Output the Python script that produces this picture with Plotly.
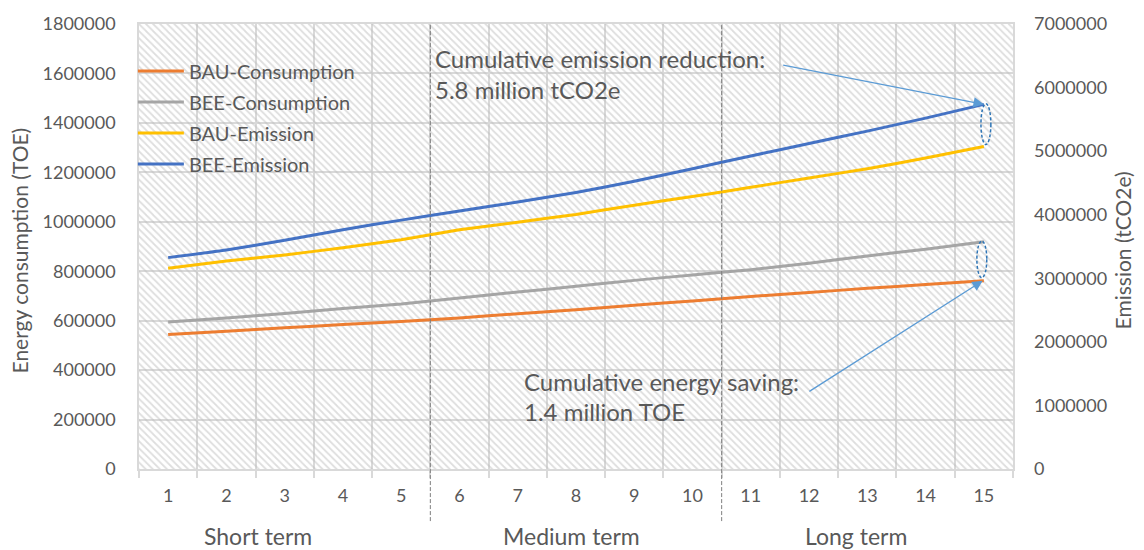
import plotly.graph_objects as go

years = list(range(1, 16))
bau_consumption = [544000, 557000, 571000, 584000, 597000, 611000, 628000, 644000, 662000, 680000,
                   698000, 714000, 731000, 746000, 761000]
bee_consumption = [595000, 611000, 629000, 649000, 667000, 692000, 716000, 739000, 763000, 785000,
                   806000, 832000, 862000, 889000, 919000]
bau_emission = [3158000, 3273000, 3367000, 3481000, 3606000, 3763000, 3883000, 4004000, 4150000, 4286000,
                4432000, 4578000, 4724000, 4891000, 5074000]
bee_emission = [3325000, 3445000, 3597000, 3765000, 3915000, 4058000, 4200000, 4350000, 4525000, 4724000,
                4925000, 5120000, 5315000, 5520000, 5736000]
term_labels = ["Short term", "Medium term", "Long term"]

FONT = "Lato"
TXT = "#595959"
GRID = "#d9d9d9"

fig = go.Figure()

# hatched plot background
fig.add_trace(go.Scatter(
    x=[0.5, 15.5, 15.5, 0.5, 0.5], y=[0, 0, 1800000, 1800000, 0],
    mode="lines", line=dict(width=0), fill="toself",
    fillcolor="rgba(0,0,0,0)",
    fillpattern=dict(shape="\\", fgcolor="#bdbdbd", bgcolor="rgba(255,255,255,0)", size=5, solidity=0.35),
    hoverinfo="skip", showlegend=False))

series = [
    ("BAU-Consumption", bau_consumption, "#ED7D31", "y"),
    ("BEE-Consumption", bee_consumption, "#A5A5A5", "y"),
    ("BAU-Emission", bau_emission, "#FFC000", "y2"),
    ("BEE-Emission", bee_emission, "#4472C4", "y2"),
]
for name, vals, color, ax in series:
    fig.add_trace(go.Scatter(x=years, y=vals, name=name, mode="lines", yaxis=ax,
                             line=dict(color=color, width=3, shape="spline", smoothing=0.4),
                             legendgroup=name))

shapes = []
# period separators
for xs in (5.5, 10.5):
    shapes.append(dict(type="line", xref="x", yref="paper", x0=xs, x1=xs, y0=-0.117, y1=1,
                       line=dict(color="#7f7f7f", width=1, dash="4px,2px")))
# dashed ellipses marking the gaps at year 15
shapes.append(dict(type="circle", xref="x", yref="y2", x0=14.95, x1=15.12,
                   y0=bau_emission[-1] + 30000, y1=bee_emission[-1] + 10000,
                   line=dict(color="#2E75B6", width=1.5, dash="3px,2px")))
shapes.append(dict(type="circle", xref="x", yref="y", x0=14.88, x1=15.05,
                   y0=bau_consumption[-1] + 13000, y1=bee_consumption[-1] + 3000,
                   line=dict(color="#2E75B6", width=1.5, dash="3px,2px")))

annotations = []
for lbl, xc in zip(term_labels, (2.54, 7.93, 12.8)):
    annotations.append(dict(text=lbl, x=xc, xref="x", y=0, yref="paper", yanchor="middle", yshift=-67,
                            showarrow=False, font=dict(family=FONT, size=23, color=TXT)))


def note(text, x, y):
    return dict(text=text, xref="paper", x=x, xanchor="left", yref="paper", y=y, yanchor="middle",
                showarrow=False, font=dict(family=FONT, size=24, color=TXT))


annotations += [
    dict(text="Energy consumption (TOE)", textangle=-90, xref="paper", x=0, xshift=-134,
         yref="paper", y=0.49, yanchor="middle", showarrow=False,
         font=dict(family=FONT, size=21, color=TXT)),
    dict(text="Emission (tCO2e)", textangle=-90, xref="paper", x=1, xshift=124,
         yref="paper", y=0.49, yanchor="middle", showarrow=False,
         font=dict(family=FONT, size=21, color=TXT)),
    note("Cumulative emission reduction:", 0.3364, 0.9217),
    note("5.8 million tCO2e", 0.3364, 0.852),
    note("Cumulative energy saving:", 0.4382, 0.1969),
    note("1.4 million TOE", 0.4382, 0.1298),
    # arrows pointing at the gaps
    dict(text="", x=15, y=bee_emission[-1], xref="x", yref="y2",
         ax=11.53, ay=6358000, axref="x", ayref="y2", showarrow=True,
         arrowhead=2, arrowsize=1.6, arrowwidth=1.3, arrowcolor="#5B9BD5"),
    dict(text="", x=14.98, y=bau_consumption[-1], xref="x", yref="y",
         ax=11.98, ay=310000, axref="x", ayref="y", showarrow=True,
         arrowhead=2, arrowsize=1.6, arrowwidth=1.3, arrowcolor="#5B9BD5"),
]

fig.update_layout(
    width=1144, height=550,
    margin=dict(l=139, r=131, t=22, b=81),
    paper_bgcolor="white", plot_bgcolor="white",
    font=dict(family=FONT, color=TXT),
    shapes=shapes, annotations=annotations,
    legend=dict(x=-0.007, xanchor="left", y=0.938, yanchor="top", bgcolor="rgba(0,0,0,0)",
                font=dict(family=FONT, size=20, color=TXT), tracegroupgap=2, itemwidth=46),
    xaxis=dict(range=[0.5, 15.5], tickmode="array", tickvals=years, ticktext=[str(y) for y in years],
               showgrid=False, ticks="", ticklabelstandoff=10, zeroline=False,
               tickfont=dict(family=FONT, size=18, color=TXT),
               showline=True, linecolor=GRID, linewidth=1.5, mirror=True,
               minor=dict(tickmode="linear", tick0=0.5, dtick=1, showgrid=True, gridcolor=GRID,
                          gridwidth=1.5, ticks="outside", ticklen=7, tickcolor=GRID, tickwidth=1.5)),
    yaxis=dict(range=[0, 1800000], dtick=200000, tickformat="d", showgrid=True, gridcolor=GRID,
               gridwidth=1.5, zeroline=False, ticks="", ticklabelstandoff=18,
               tickfont=dict(family=FONT, size=18, color=TXT),
               showline=True, linecolor=GRID, linewidth=1.5, mirror=True),
    yaxis2=dict(range=[0, 7000000], dtick=1000000, tickformat="d", overlaying="y", side="right",
                showgrid=False, zeroline=False, ticks="", ticklabelstandoff=20,
                tickfont=dict(family=FONT, size=18, color=TXT)),
)

fig.write_html("out.html")
